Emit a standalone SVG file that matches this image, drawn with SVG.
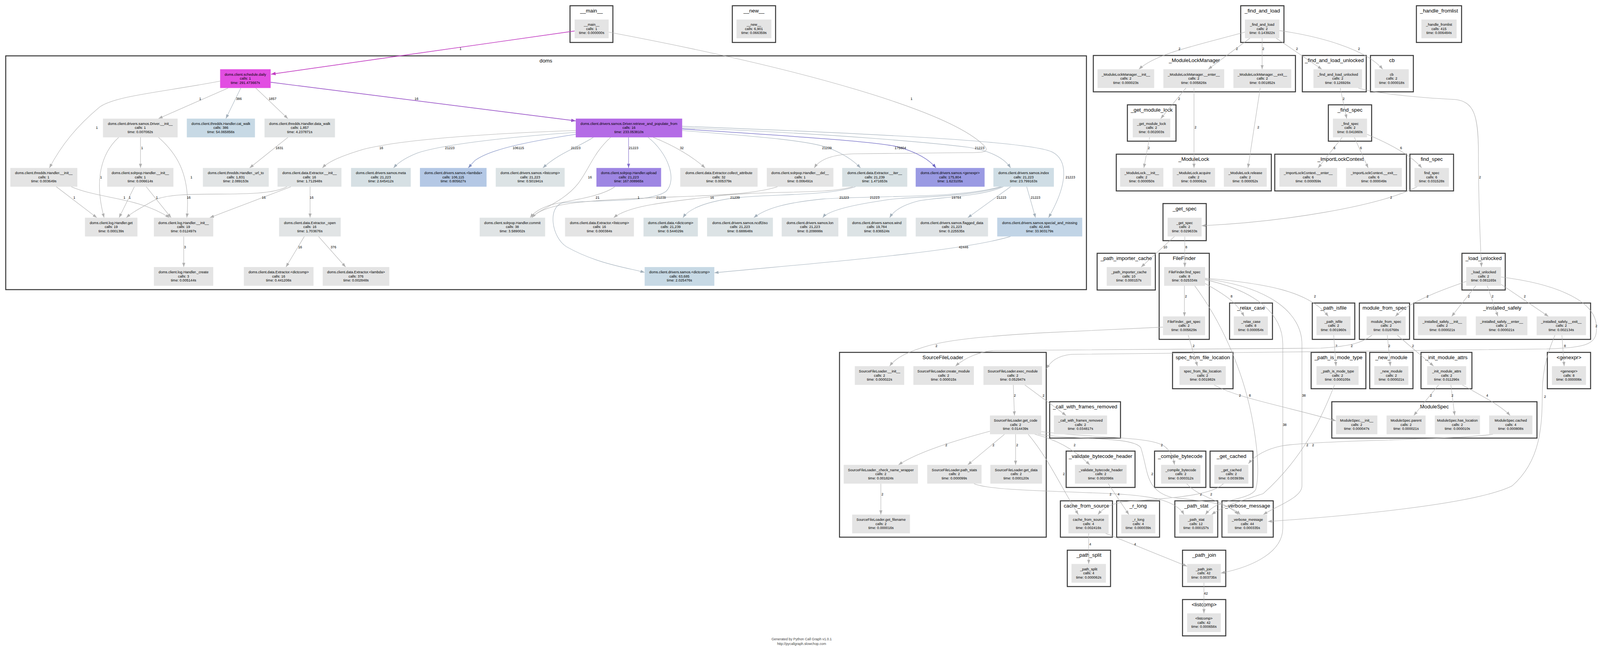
<svg xmlns="http://www.w3.org/2000/svg" width="4189" height="1711" viewBox="0 0 4189 1711">
<defs>
<style>
text{font-family:"Liberation Sans",Arial,Helvetica,sans-serif;fill:#000}
.n{font-size:9.3px;text-anchor:middle}
.c{font-size:13.5px;text-anchor:middle}
.l{font-size:9px;text-anchor:middle}
.f{font-size:9px;text-anchor:middle;fill:#444}
.cl{fill:#fff;stroke:#3a3a3a;stroke-width:2.6}
.g{fill:#e4e4e4}
.e{fill:none;stroke:#b0b0b0;stroke-width:1.1;marker-end:url(#ag)}
.eb{fill:none;stroke:#a3b0bb;stroke-width:1.1;marker-end:url(#ab)}
.em{fill:none;stroke:#c23cc2;stroke-width:1.7;marker-end:url(#am)}
.ep{fill:none;stroke:#9a55c8;stroke-width:1.7;marker-end:url(#ap)}
.ebl{fill:none;stroke:#7f8fc2;stroke-width:1.2;marker-end:url(#abl)}
.ev{fill:none;stroke:#8470cc;stroke-width:1.2;marker-end:url(#av)}
.ei{fill:none;stroke:#6a64c2;stroke-width:1.3;marker-end:url(#ai)}
</style>
<marker id="ag" markerUnits="userSpaceOnUse" markerWidth="11" markerHeight="8" refX="11" refY="4" orient="auto" viewBox="0 0 11 8"><path d="M0,0L11,4L0,8z" fill="#b0b0b0"/></marker>
<marker id="ab" markerUnits="userSpaceOnUse" markerWidth="11" markerHeight="8" refX="11" refY="4" orient="auto" viewBox="0 0 11 8"><path d="M0,0L11,4L0,8z" fill="#a3b0bb"/></marker>
<marker id="am" markerUnits="userSpaceOnUse" markerWidth="12" markerHeight="9" refX="12" refY="4.5" orient="auto" viewBox="0 0 12 9"><path d="M0,0L12,4.5L0,9z" fill="#c23cc2"/></marker>
<marker id="ap" markerUnits="userSpaceOnUse" markerWidth="12" markerHeight="9" refX="12" refY="4.5" orient="auto" viewBox="0 0 12 9"><path d="M0,0L12,4.5L0,9z" fill="#9a55c8"/></marker>
<marker id="abl" markerUnits="userSpaceOnUse" markerWidth="11" markerHeight="8" refX="11" refY="4" orient="auto" viewBox="0 0 11 8"><path d="M0,0L11,4L0,8z" fill="#7f8fc2"/></marker>
<marker id="av" markerUnits="userSpaceOnUse" markerWidth="11" markerHeight="8" refX="11" refY="4" orient="auto" viewBox="0 0 11 8"><path d="M0,0L11,4L0,8z" fill="#8470cc"/></marker>
<marker id="ai" markerUnits="userSpaceOnUse" markerWidth="11" markerHeight="8" refX="11" refY="4" orient="auto" viewBox="0 0 11 8"><path d="M0,0L11,4L0,8z" fill="#6a64c2"/></marker>
</defs>
<rect width="4189" height="1711" fill="#fff"/>
<g id="diagram" transform="scale(0.98)">
<g id="clusters">
<g id="c-doms"><rect class="cl" x="15" y="146" width="2823" height="611"/><text class="c" x="1426" y="163.5">doms</text></g>
<g id="c-main"><rect class="cl" x="1489" y="15" width="112" height="96"/><text class="c" x="1545" y="33">__main__</text></g>
<g id="c-new"><rect class="cl" x="1913" y="15" width="113" height="96"/><text class="c" x="1969.5" y="33">__new__</text></g>
<g id="c-fal"><rect class="cl" x="3241" y="15" width="113" height="96"/><text class="c" x="3297.5" y="33">_find_and_load</text></g>
<g id="c-hf"><rect class="cl" x="3700" y="15" width="118" height="96"/><text class="c" x="3759" y="33">_handle_fromlist</text></g>
<g id="c-mlm"><rect class="cl" x="2856" y="145" width="528" height="95"/><text class="c" x="3120" y="162.5">_ModuleLockManager</text></g>
<g id="c-falu"><rect class="cl" x="3402" y="145" width="167" height="95"/><text class="c" x="3485.5" y="162.5">_find_and_load_unlocked</text></g>
<g id="c-cb"><rect class="cl" x="3580" y="145" width="112" height="95"/><text class="c" x="3636" y="162.5">cb</text></g>
<g id="c-gml"><rect class="cl" x="2945" y="274" width="127" height="95"/><text class="c" x="3008.5" y="291.5">_get_module_lock</text></g>
<g id="c-fs"><rect class="cl" x="3470" y="274" width="113" height="95"/><text class="c" x="3526.5" y="291.5">_find_spec</text></g>
<g id="c-ml"><rect class="cl" x="2916" y="403" width="405" height="96"/><text class="c" x="3118.5" y="420.5">_ModuleLock</text></g>
<g id="c-ilc"><rect class="cl" x="3330" y="403" width="344" height="96"/><text class="c" x="3502" y="420.5">_ImportLockContext</text></g>
<g id="c-fspec"><rect class="cl" x="3683" y="403" width="114" height="96"/><text class="c" x="3740" y="420.5">find_spec</text></g>
<g id="c-gs"><rect class="cl" x="3038" y="532" width="113" height="97"/><text class="c" x="3094.5" y="549.5">_get_spec</text></g>
<g id="c-pic"><rect class="cl" x="2866" y="662" width="152" height="96"/><text class="c" x="2942" y="679.5">_path_importer_cache</text></g>
<g id="c-ff"><rect class="cl" x="3028" y="662" width="131" height="225"/><text class="c" x="3093.5" y="679.5">FileFinder</text></g>
<g id="c-lu"><rect class="cl" x="3819" y="662" width="113" height="96"/><text class="c" x="3875.5" y="679.5">_load_unlocked</text></g>
<g id="c-rc"><rect class="cl" x="3212" y="792" width="112" height="95"/><text class="c" x="3268" y="809.5">_relax_case</text></g>
<g id="c-pif"><rect class="cl" x="3428" y="792" width="111" height="95"/><text class="c" x="3483.5" y="809.5">_path_isfile</text></g>
<g id="c-mfs"><rect class="cl" x="3551" y="792" width="131" height="95"/><text class="c" x="3616.5" y="809.5">module_from_spec</text></g>
<g id="c-is"><rect class="cl" x="3693" y="792" width="462" height="95"/><text class="c" x="3924" y="809.5">_installed_safely</text></g>
<g id="c-sfl"><rect class="cl" x="2193" y="921" width="540" height="483"/><text class="c" x="2463" y="938.5">SourceFileLoader</text></g>
<g id="c-sffl"><rect class="cl" x="3063" y="921" width="158" height="95"/><text class="c" x="3142" y="938.5">spec_from_file_location</text></g>
<g id="c-pimt"><rect class="cl" x="3425" y="921" width="143" height="95"/><text class="c" x="3496.5" y="938.5">_path_is_mode_type</text></g>
<g id="c-nm"><rect class="cl" x="3578" y="921" width="113" height="95"/><text class="c" x="3634.5" y="938.5">_new_module</text></g>
<g id="c-ima"><rect class="cl" x="3712" y="921" width="133" height="95"/><text class="c" x="3778.5" y="938.5">_init_module_attrs</text></g>
<g id="c-gx"><rect class="cl" x="4042" y="921" width="113" height="95"/><text class="c" x="4098.5" y="938.5">&lt;genexpr&gt;</text></g>
<g id="c-cwfr"><rect class="cl" x="2742" y="1050" width="185" height="95"/><text class="c" x="2834.5" y="1067.5">_call_with_frames_removed</text></g>
<g id="c-ms"><rect class="cl" x="3479" y="1050" width="536" height="95"/><text class="c" x="3747" y="1067.5">ModuleSpec</text></g>
<g id="c-vbh"><rect class="cl" x="2785" y="1179" width="180" height="95"/><text class="c" x="2875" y="1196.5">_validate_bytecode_header</text></g>
<g id="c-cbc"><rect class="cl" x="3016" y="1179" width="134" height="95"/><text class="c" x="3083" y="1196.5">_compile_bytecode</text></g>
<g id="c-gc"><rect class="cl" x="3161" y="1179" width="112" height="95"/><text class="c" x="3217" y="1196.5">_get_cached</text></g>
<g id="c-cfs"><rect class="cl" x="2770" y="1309" width="136" height="95"/><text class="c" x="2838" y="1326.5">cache_from_source</text></g>
<g id="c-rl"><rect class="cl" x="2917" y="1309" width="112" height="95"/><text class="c" x="2973" y="1326.5">_r_long</text></g>
<g id="c-ps"><rect class="cl" x="3069" y="1309" width="112" height="95"/><text class="c" x="3125" y="1326.5">_path_stat</text></g>
<g id="c-vm"><rect class="cl" x="3192" y="1309" width="134" height="95"/><text class="c" x="3259" y="1326.5">_verbose_message</text></g>
<g id="c-psp"><rect class="cl" x="2788" y="1438" width="113" height="95"/><text class="c" x="2844.5" y="1455.5">_path_split</text></g>
<g id="c-pj"><rect class="cl" x="3089" y="1438" width="113" height="95"/><text class="c" x="3145.5" y="1455.5">_path_join</text></g>
<g id="c-lc"><rect class="cl" x="3089" y="1567" width="113" height="95"/><text class="c" x="3145.5" y="1584.5">&lt;listcomp&gt;</text></g>
</g>

<g id="edges">
<path class="em" d="M1501,81 L708,194"/><text class="l" x="1203" y="131">1</text>
<path class="e" d="M1590,84 C2100,180 2480,290 2570,380 C2590,400 2560,399 2520,399 L2230,402 C2170,404 2140,418 2127,439"/><text class="l" x="2381" y="261">1</text>
<path class="e" d="M596,230 L414,310"/><text class="l" x="523" y="261">1</text>
<path class="eb" d="M629,230 L590,310"/><text class="l" x="624" y="261">386</text>
<path class="e" d="M668,230 L752,310"/><text class="l" x="712" y="261">1857</text>
<path class="ep" d="M707,215 L1504,316"/><text class="l" x="1088" y="261">16</text>
<path class="e" d="M575,212 C430,240 300,250 260,280 C200,330 160,380 129,439"/><text class="l" x="253" y="337">1</text>
<path class="e" d="M367,359 L367,439"/><text class="l" x="371" y="390">1</text>
<path class="e" d="M310,359 C265,400 245,470 272,569"/><text class="l" x="264" y="466">1</text>
<path class="e" d="M414,359 C455,395 500,450 488,569"/><text class="l" x="500" y="466">1</text>
<path class="e" d="M752,359 L652,439"/><text class="l" x="730" y="390">1831</text>
<path class="e" d="M147,488 L253,569"/><text class="l" x="194" y="519">1</text>
<path class="e" d="M186,488 C260,520 360,515 443,569"/><text class="l" x="325" y="519">1</text>
<path class="e" d="M351,488 L311,569"/><text class="l" x="339" y="519">1</text>
<path class="e" d="M382,488 L447,569"/><text class="l" x="410" y="519">1</text>
<path class="e" d="M750,488 C680,525 460,490 400,525 C365,545 345,555 330,569"/><text class="l" x="493" y="519">16</text>
<path class="e" d="M760,488 L548,569"/><text class="l" x="689" y="519">16</text>
<path class="e" d="M810,488 L810,569"/><text class="l" x="814" y="519">16</text>
<path class="e" d="M480,618 L480,698"/><text class="l" x="483" y="649">3</text>
<path class="e" d="M795,618 L747,698"/><text class="l" x="784" y="649">16</text>
<path class="e" d="M832,618 L903,698"/><text class="l" x="871" y="649">376</text>
<path class="e" d="M1504,341 C1250,350 1050,365 950,390 C900,405 860,420 842,439"/><text class="l" x="996" y="390">16</text>
<path class="eb" d="M1504,346 C1300,360 1150,380 1090,400 C1060,412 1040,425 1028,439"/><text class="l" x="1175" y="390">21223</text>
<path class="ebl" d="M1504,351 C1380,370 1280,390 1240,420 L1223,439"/><text class="l" x="1354" y="390">106115</text>
<path class="eb" d="M1550,359 C1510,385 1460,400 1418,439"/><text class="l" x="1504" y="390">21223</text>
<path class="e" d="M1595,359 C1550,400 1540,440 1510,480 C1470,530 1410,545 1389,569"/><text class="l" x="1541" y="466">16</text>
<path class="ev" d="M1642,359 L1642,439"/><text class="l" x="1655" y="390">21223</text>
<path class="eb" d="M1693,359 C1745,400 1770,470 1740,500 C1700,530 1560,522 1470,530 C1430,540 1440,620 1480,645 C1560,690 1640,700 1684,712"/><text class="l" x="1727" y="519">21239</text>
<path class="e" d="M1706,359 C1760,380 1810,410 1842,439"/><text class="l" x="1781" y="390">32</text>
<path class="eb" d="M1782,330 C2300,350 2700,370 2750,398 C2790,420 2790,480 2739,569"/><text class="l" x="2796" y="466">21223</text>
<path class="eb" d="M1782,334 C2200,350 2450,375 2530,385 C2590,395 2625,415 2640,439"/><text class="l" x="2559" y="390">21223</text>
<path class="ei" d="M1782,337 C2050,355 2300,370 2350,385 C2400,400 2430,420 2445,439"/><text class="l" x="2352" y="390">175804</text>
<path class="eb" d="M1782,341 C1950,355 2100,365 2160,385 C2200,400 2230,420 2248,439"/><text class="l" x="2160" y="390">21239</text>
<path class="e" d="M2031,488 C1960,512 1800,512 1680,518 C1500,525 1420,535 1389,569"/><text class="l" x="1668" y="519">1</text>
<path class="e" d="M1606,488 C1570,515 1480,525 1440,535 C1410,545 1395,555 1385,569"/><text class="l" x="1561" y="519">21</text>
<path class="e" d="M2228,488 C2150,510 2000,495 1850,515 C1720,530 1640,540 1603,569"/><text class="l" x="1860" y="519">16</text>
<path class="eb" d="M2235,488 C2150,515 2000,505 1900,520 C1840,530 1800,545 1784,569"/><text class="l" x="1920" y="519">21239</text>
<path class="eb" d="M2614,488 C2500,520 2300,510 2150,520 C2050,530 2000,545 1969,569"/><text class="l" x="2205" y="519">21223</text>
<path class="eb" d="M2617,488 C2520,520 2380,510 2300,525 C2200,540 2160,555 2149,569"/><text class="l" x="2285" y="519">21223</text>
<path class="eb" d="M2621,488 C2560,515 2450,515 2400,525 C2360,535 2335,550 2324,569"/><text class="l" x="2498" y="519">19784</text>
<path class="eb" d="M2640,488 L2528,569"/><text class="l" x="2616" y="519">21223</text>
<path class="eb" d="M2682,488 L2705,569"/><text class="l" x="2705" y="519">21223</text>
<path class="eb" d="M2640,618 C2500,660 2100,690 1866,713"/><text class="l" x="2517" y="649">42446</text>

<path class="e" d="M3252,84 C3120,120 3020,140 2975,181"/><text class="l" x="3081" y="131">2</text>
<path class="e" d="M3265,100 L3156,181"/><text class="l" x="3231" y="131">2</text>
<path class="e" d="M3297,100 L3297,181"/><text class="l" x="3300" y="131">2</text>
<path class="e" d="M3334,100 L3453,181"/><text class="l" x="3388" y="131">2</text>
<path class="e" d="M3342,80 C3450,95 3570,130 3612,181"/><text class="l" x="3550" y="131">2</text>
<path class="e" d="M3098,230 L3032,310"/><text class="l" x="3080" y="261">2</text>
<path class="e" d="M3119,230 L3119,439"/><text class="l" x="3123" y="336">2</text>
<path class="e" d="M3292,230 L3260,439"/><text class="l" x="3287" y="336">2</text>
<path class="e" d="M3003,359 L2988,439"/><text class="l" x="3001" y="390">2</text>
<path class="e" d="M3501,230 L3518,310"/><text class="l" x="3510" y="261">2</text>
<path class="e" d="M3548,230 C3600,245 3700,255 3800,260 C3850,265 3862,300 3862,400 C3862,550 3868,650 3870,698"/><text class="l" x="3866" y="466">2</text>
<path class="e" d="M3506,359 L3443,439"/><text class="l" x="3486" y="390">6</text>
<path class="e" d="M3538,359 L3574,439"/><text class="l" x="3555" y="390">6</text>
<path class="e" d="M3571,351 C3640,380 3690,410 3714,439"/><text class="l" x="3660" y="390">6</text>
<path class="e" d="M3702,488 C3600,540 3350,580 3139,590"/><text class="l" x="3634" y="519">2</text>
<path class="e" d="M3068,618 L2981,698"/><text class="l" x="3044" y="649">10</text>
<path class="e" d="M3095,618 L3095,698"/><text class="l" x="3099" y="649">8</text>
<path class="e" d="M3094,747 L3094,827"/><text class="l" x="3098" y="778">2</text>
<path class="e" d="M3148,741 C3200,770 3230,790 3250,827"/><text class="l" x="3217" y="778">8</text>
<path class="e" d="M3148,727 C3300,740 3420,760 3470,827"/><text class="l" x="3435" y="778">2</text>
<path class="e" d="M3121,747 C3160,800 3200,870 3230,950 C3280,1080 3295,1230 3280,1280 C3260,1310 3180,1300 3149,1345"/><text class="l" x="3265" y="1037">8</text>
<path class="e" d="M3148,729 C3320,750 3401,820 3401,900 L3401,1270 C3401,1300 3340,1320 3300,1345"/><text class="l" x="3406" y="1037">38</text>
<path class="e" d="M3148,731 C3280,760 3351,820 3351,900 L3351,1380 C3351,1440 3280,1480 3189,1498"/><text class="l" x="3356" y="1113">38</text>
<path class="e" d="M3038,855 L2720,870 C2550,880 2470,890 2420,905 C2370,920 2340,935 2324,957"/><text class="l" x="2446" y="907">2</text>
<path class="e" d="M3104,876 L3128,957"/><text class="l" x="3118" y="907">2</text>
<path class="e" d="M3484,876 L3490,957"/><text class="l" x="3491" y="907">2</text>
<path class="e" d="M3584,876 C3560,895 3530,905 3450,910 L2600,916 C2560,918 2520,935 2496,957"/><text class="l" x="3531" y="907">2</text>
<path class="e" d="M3624,876 L3632,957"/><text class="l" x="3629" y="907">2</text>
<path class="e" d="M3650,876 L3745,957"/><text class="l" x="3691" y="907">2</text>
<path class="e" d="M3832,735 C3760,760 3680,790 3645,827"/><text class="l" x="3729" y="778">2</text>
<path class="e" d="M3855,747 L3792,827"/><text class="l" x="3837" y="778">2</text>
<path class="e" d="M3885,747 L3913,827"/><text class="l" x="3899" y="778">2</text>
<path class="e" d="M3921,743 L4045,827"/><text class="l" x="3983" y="778">2</text>
<path class="e" d="M3921,724 C4050,740 4165,780 4170,850 C4174,900 4150,908 4040,912 L3450,919 L2800,926 C2760,930 2745,945 2733,964"/><text class="l" x="4170" y="855">2</text>
<path class="e" d="M4062,876 C4045,915 4030,960 4029,1020 C4028,1100 4030,1200 3950,1270 C3850,1320 3500,1350 3312,1363"/><text class="l" x="4036" y="1040">2</text>
<path class="e" d="M4080,876 L4086,957"/><text class="l" x="4088" y="907">8</text>
<path class="e" d="M3170,1005 C3230,1040 3350,1060 3490,1100"/><text class="l" x="3239" y="1037">2</text>
<path class="e" d="M3486,1006 C3450,1100 3400,1200 3300,1290 C3240,1310 3200,1320 3165,1345"/><text class="l" x="3415" y="1166">2</text>
<path class="e" d="M3900,1135 C3800,1150 3450,1150 3350,1165 C3300,1175 3275,1195 3261,1212"/><text class="l" x="3430" y="1166">2</text>
<path class="e" d="M3758,1006 L3693,1086"/><text class="l" x="3738" y="1037">2</text>
<path class="e" d="M3790,1006 L3800,1086"/><text class="l" x="3794" y="1037">2</text>
<path class="e" d="M3820,1006 C3880,1040 3920,1060 3945,1086"/><text class="l" x="3885" y="1037">4</text>
<path class="e" d="M2647,1006 L2650,1086"/><text class="l" x="2651" y="1037">2</text>
<path class="e" d="M2677,1006 L2785,1086"/><text class="l" x="2726" y="1037">2</text>
<path class="e" d="M2586,1127 C2500,1150 2400,1180 2347,1215"/><text class="l" x="2472" y="1166">2</text>
<path class="e" d="M2624,1135 L2528,1215"/><text class="l" x="2595" y="1166">2</text>
<path class="e" d="M2653,1135 L2653,1215"/><text class="l" x="2657" y="1166">2</text>
<path class="e" d="M2686,1135 C2740,1200 2770,1270 2817,1345"/><text class="l" x="2779" y="1242">2</text>
<path class="e" d="M2703,1135 C2760,1150 2800,1170 2847,1215"/><text class="l" x="2807" y="1166">2</text>
<path class="e" d="M2720,1128 C2850,1145 3000,1140 3040,1165 C3060,1180 3065,1195 3068,1215"/><text class="l" x="3035" y="1166">2</text>
<path class="e" d="M2712,1135 C2800,1150 2960,1140 2980,1170 C3000,1230 2990,1280 3060,1300 C3150,1310 3210,1315 3240,1345"/><text class="l" x="3010" y="1242">2</text>
<path class="e" d="M2544,1264 C2580,1280 2700,1282 2900,1290 C3000,1295 3070,1305 3093,1345"/><text class="l" x="2901" y="1295">2</text>
<path class="e" d="M2895,1264 L2949,1345"/><text class="l" x="2922" y="1295">4</text>
<path class="e" d="M3100,1264 C3130,1300 3200,1310 3235,1345"/><text class="l" x="3137" y="1295">2</text>
<path class="e" d="M3196,1264 C3170,1290 3100,1300 2950,1310 C2900,1315 2880,1330 2868,1345"/><text class="l" x="3164" y="1295">2</text>
<path class="e" d="M2301,1264 L2301,1345"/><text class="l" x="2305" y="1295">2</text>
<path class="e" d="M2844,1394 L2844,1474"/><text class="l" x="2848" y="1425">4</text>
<path class="e" d="M2888,1394 L3101,1480"/><text class="l" x="2965" y="1425">4</text>
<path class="e" d="M3145,1523 L3145,1603"/><text class="l" x="3150" y="1554">42</text>
</g>

<g id="nodes">
<g id="n-sched"><rect x="575" y="181" width="132" height="49" fill="#e24ee2"/><text class="n" x="641" y="197.5">doms.client.schedule.daily<tspan x="641" dy="10.7">calls: 1</tspan><tspan x="641" dy="10.7">time: 291.473667s</tspan></text></g>
<g id="n-drvinit"><rect class="g" x="269" y="310" width="195" height="49"/><text class="n" x="366.5" y="326.5">doms.client.drivers.samos.Driver.__init__<tspan x="366.5" dy="10.7">calls: 1</tspan><tspan x="366.5" dy="10.7">time: 0.007082s</tspan></text></g>
<g id="n-catwalk"><rect x="488" y="310" width="178" height="49" fill="#c7d9e5"/><text class="n" x="577" y="326.5">doms.client.thredds.Handler.cat_walk<tspan x="577" dy="10.7">calls: 386</tspan><tspan x="577" dy="10.7">time: 54.065856s</tspan></text></g>
<g id="n-datawalk"><rect x="691" y="310" width="184" height="49" fill="#e0e3e4"/><text class="n" x="783" y="326.5">doms.client.thredds.Handler.data_walk<tspan x="783" dy="10.7">calls: 1,857</tspan><tspan x="783" dy="10.7">time: 4.237871s</tspan></text></g>
<g id="n-retrieve"><rect x="1504" y="310" width="278" height="49" fill="#b46be6"/><text class="n" x="1643" y="326.5">doms.client.drivers.samos.Driver.retrieve_and_populate_from<tspan x="1643" dy="10.7">calls: 16</tspan><tspan x="1643" dy="10.7">time: 233.053810s</tspan></text></g>
<g id="n-thinit"><rect class="g" x="27" y="439" width="175" height="49"/><text class="n" x="114.5" y="455.5">doms.client.thredds.Handler.__init__<tspan x="114.5" dy="10.7">calls: 1</tspan><tspan x="114.5" dy="10.7">time: 0.003649s</tspan></text></g>
<g id="n-spinit"><rect class="g" x="280" y="439" width="173" height="49"/><text class="n" x="366.5" y="455.5">doms.client.solrpop.Handler.__init__<tspan x="366.5" dy="10.7">calls: 1</tspan><tspan x="366.5" dy="10.7">time: 0.006614s</tspan></text></g>
<g id="n-urlto"><rect x="530" y="439" width="172" height="49" fill="#e1e4e5"/><text class="n" x="616" y="455.5">doms.client.thredds.Handler._url_to<tspan x="616" dy="10.7">calls: 1,831</tspan><tspan x="616" dy="10.7">time: 2.089153s</tspan></text></g>
<g id="n-exinit"><rect x="725" y="439" width="167" height="49" fill="#e1e4e5"/><text class="n" x="808.5" y="455.5">doms.client.data.Extractor.__init__<tspan x="808.5" dy="10.7">calls: 16</tspan><tspan x="808.5" dy="10.7">time: 1.712948s</tspan></text></g>
<g id="n-meta"><rect x="917" y="439" width="156" height="49" fill="#d6e0e4"/><text class="n" x="995" y="455.5">doms.client.drivers.samos.meta<tspan x="995" dy="10.7">calls: 21,223</tspan><tspan x="995" dy="10.7">time: 2.645412s</tspan></text></g>
<g id="n-lambda"><rect x="1097" y="439" width="174" height="49" fill="#b4c8e5"/><text class="n" x="1184" y="455.5">doms.client.drivers.samos.&lt;lambda&gt;<tspan x="1184" dy="10.7">calls: 106,115</tspan><tspan x="1184" dy="10.7">time: 0.805627s</tspan></text></g>
<g id="n-listcomp"><rect x="1295" y="439" width="180" height="49" fill="#dce3e5"/><text class="n" x="1385" y="455.5">doms.client.drivers.samos.&lt;listcomp&gt;<tspan x="1385" dy="10.7">calls: 21,223</tspan><tspan x="1385" dy="10.7">time: 0.501941s</tspan></text></g>
<g id="n-upload"><rect x="1558" y="439" width="169" height="49" fill="#9e86e3"/><text class="n" x="1642.5" y="455.5">doms.client.solrpop.Handler.upload<tspan x="1642.5" dy="10.7">calls: 21,223</tspan><tspan x="1642.5" dy="10.7">time: 167.008965s</tspan></text></g>
<g id="n-collect"><rect class="g" x="1777" y="439" width="202" height="49"/><text class="n" x="1878" y="455.5">doms.client.data.Extractor.collect_attribute<tspan x="1878" dy="10.7">calls: 32</tspan><tspan x="1878" dy="10.7">time: 0.005379s</tspan></text></g>
<g id="n-del"><rect class="g" x="2003" y="439" width="174" height="49"/><text class="n" x="2090" y="455.5">doms.client.solrpop.Handler.__del__<tspan x="2090" dy="10.7">calls: 1</tspan><tspan x="2090" dy="10.7">time: 0.006491s</tspan></text></g>
<g id="n-iter"><rect x="2200" y="439" width="170" height="49" fill="#d8e1e4"/><text class="n" x="2285" y="455.5">doms.client.data.Extractor.__iter__<tspan x="2285" dy="10.7">calls: 21,239</tspan><tspan x="2285" dy="10.7">time: 1.471653s</tspan></text></g>
<g id="n-genexpr"><rect x="2392" y="439" width="180" height="49" fill="#9a9ae3"/><text class="n" x="2482" y="455.5">doms.client.drivers.samos.&lt;genexpr&gt;<tspan x="2482" dy="10.7">calls: 175,804</tspan><tspan x="2482" dy="10.7">time: 1.623105s</tspan></text></g>
<g id="n-index"><rect x="2595" y="439" width="158" height="49" fill="#cfdde5"/><text class="n" x="2674" y="455.5">doms.client.drivers.samos.index<tspan x="2674" dy="10.7">calls: 21,223</tspan><tspan x="2674" dy="10.7">time: 23.799163s</tspan></text></g>
<g id="n-logget"><rect class="g" x="222" y="569" width="137" height="49"/><text class="n" x="290.5" y="585.5">doms.client.log.Handler.get<tspan x="290.5" dy="10.7">calls: 19</tspan><tspan x="290.5" dy="10.7">time: 0.000139s</tspan></text></g>
<g id="n-loginit"><rect class="g" x="402" y="569" width="155" height="49"/><text class="n" x="479.5" y="585.5">doms.client.log.Handler.__init__<tspan x="479.5" dy="10.7">calls: 19</tspan><tspan x="479.5" dy="10.7">time: 0.012497s</tspan></text></g>
<g id="n-exopen"><rect x="729" y="569" width="161" height="49" fill="#e1e4e5"/><text class="n" x="809.5" y="585.5">doms.client.data.Extractor._open<tspan x="809.5" dy="10.7">calls: 16</tspan><tspan x="809.5" dy="10.7">time: 1.703676s</tspan></text></g>
<g id="n-commit"><rect x="1253" y="569" width="171" height="49" fill="#e0e4e5"/><text class="n" x="1338.5" y="585.5">doms.client.solrpop.Handler.commit<tspan x="1338.5" dy="10.7">calls: 38</tspan><tspan x="1338.5" dy="10.7">time: 3.589002s</tspan></text></g>
<g id="n-exlistcomp"><rect class="g" x="1476" y="569" width="180" height="49"/><text class="n" x="1566" y="585.5">doms.client.data.Extractor.&lt;listcomp&gt;<tspan x="1566" dy="10.7">calls: 16</tspan><tspan x="1566" dy="10.7">time: 0.000384s</tspan></text></g>
<g id="n-datadict"><rect x="1681" y="569" width="142" height="49" fill="#d8e1e4"/><text class="n" x="1752" y="585.5">doms.client.data.&lt;dictcomp&gt;<tspan x="1752" dy="10.7">calls: 21,239</tspan><tspan x="1752" dy="10.7">time: 0.544029s</tspan></text></g>
<g id="n-ncdf"><rect x="1847" y="569" width="172" height="49" fill="#dce3e5"/><text class="n" x="1933" y="585.5">doms.client.drivers.samos.ncdf2iso<tspan x="1933" dy="10.7">calls: 21,223</tspan><tspan x="1933" dy="10.7">time: 0.688648s</tspan></text></g>
<g id="n-lon"><rect x="2042" y="569" width="148" height="49" fill="#dfe3e5"/><text class="n" x="2116" y="585.5">doms.client.drivers.samos.lon<tspan x="2116" dy="10.7">calls: 21,223</tspan><tspan x="2116" dy="10.7">time: 0.209999s</tspan></text></g>
<g id="n-wind"><rect x="2213" y="569" width="155" height="49" fill="#dce3e5"/><text class="n" x="2290.5" y="585.5">doms.client.drivers.samos.wind<tspan x="2290.5" dy="10.7">calls: 19,784</tspan><tspan x="2290.5" dy="10.7">time: 0.836524s</tspan></text></g>
<g id="n-flagged"><rect x="2392" y="569" width="189" height="49" fill="#dfe3e5"/><text class="n" x="2486.5" y="585.5">doms.client.drivers.samos.flagged_data<tspan x="2486.5" dy="10.7">calls: 21,223</tspan><tspan x="2486.5" dy="10.7">time: 0.225535s</tspan></text></g>
<g id="n-special"><rect x="2605" y="569" width="222" height="49" fill="#c1d4e6"/><text class="n" x="2716" y="585.5">doms.client.drivers.samos.special_and_missing<tspan x="2716" dy="10.7">calls: 42,446</tspan><tspan x="2716" dy="10.7">time: 33.903179s</tspan></text></g>
<g id="n-logcreate"><rect class="g" x="402" y="698" width="155" height="49"/><text class="n" x="479.5" y="714.5">doms.client.log.Handler._create<tspan x="479.5" dy="10.7">calls: 3</tspan><tspan x="479.5" dy="10.7">time: 0.005144s</tspan></text></g>
<g id="n-exdict"><rect class="g" x="637" y="698" width="182" height="49"/><text class="n" x="728" y="714.5">doms.client.data.Extractor.&lt;dictcomp&gt;<tspan x="728" dy="10.7">calls: 16</tspan><tspan x="728" dy="10.7">time: 0.441206s</tspan></text></g>
<g id="n-exlambda"><rect class="g" x="843" y="698" width="174" height="49"/><text class="n" x="930" y="714.5">doms.client.data.Extractor.&lt;lambda&gt;<tspan x="930" dy="10.7">calls: 376</tspan><tspan x="930" dy="10.7">time: 0.002848s</tspan></text></g>
<g id="n-samosdict"><rect x="1684" y="698" width="182" height="49" fill="#c7d9e5"/><text class="n" x="1775" y="714.5">doms.client.drivers.samos.&lt;dictcomp&gt;<tspan x="1775" dy="10.7">calls: 63,685</tspan><tspan x="1775" dy="10.7">time: 2.025476s</tspan></text></g>

<g id="n-main"><rect class="g" x="1501" y="51" width="89" height="49"/><text class="n" x="1545.5" y="67.5">__main__<tspan x="1545.5" dy="10.7">calls: 1</tspan><tspan x="1545.5" dy="10.7">time: 0.000000s</tspan></text></g>
<g id="n-new"><rect class="g" x="1924" y="51" width="91" height="49"/><text class="n" x="1969.5" y="67.5">__new__<tspan x="1969.5" dy="10.7">calls: 6,901</tspan><tspan x="1969.5" dy="10.7">time: 0.066359s</tspan></text></g>
<g id="n-fal"><rect class="g" x="3252" y="51" width="90" height="49"/><text class="n" x="3297" y="67.5">_find_and_load<tspan x="3297" dy="10.7">calls: 2</tspan><tspan x="3297" dy="10.7">time: 0.143922s</tspan></text></g>
<g id="n-hf"><rect class="g" x="3713" y="51" width="92" height="49"/><text class="n" x="3759" y="67.5">_handle_fromlist<tspan x="3759" dy="10.7">calls: 415</tspan><tspan x="3759" dy="10.7">time: 0.006484s</tspan></text></g>
<g id="n-mlminit"><rect class="g" x="2867" y="181" width="148" height="49"/><text class="n" x="2941" y="197.5">_ModuleLockManager.__init__<tspan x="2941" dy="10.7">calls: 2</tspan><tspan x="2941" dy="10.7">time: 0.000023s</tspan></text></g>
<g id="n-mlmenter"><rect class="g" x="3039" y="181" width="159" height="49"/><text class="n" x="3118.5" y="197.5">_ModuleLockManager.__enter__<tspan x="3118.5" dy="10.7">calls: 2</tspan><tspan x="3118.5" dy="10.7">time: 0.005826s</tspan></text></g>
<g id="n-mlmexit"><rect class="g" x="3222" y="181" width="151" height="49"/><text class="n" x="3297.5" y="197.5">_ModuleLockManager.__exit__<tspan x="3297.5" dy="10.7">calls: 2</tspan><tspan x="3297.5" dy="10.7">time: 0.001852s</tspan></text></g>
<g id="n-falu"><rect class="g" x="3431" y="181" width="127" height="49"/><text class="n" x="3494.5" y="197.5">_find_and_load_unlocked<tspan x="3494.5" dy="10.7">calls: 2</tspan><tspan x="3494.5" dy="10.7">time: 0.126926s</tspan></text></g>
<g id="n-cb"><rect class="g" x="3591" y="181" width="89" height="49"/><text class="n" x="3635.5" y="197.5">cb<tspan x="3635.5" dy="10.7">calls: 2</tspan><tspan x="3635.5" dy="10.7">time: 0.000018s</tspan></text></g>
<g id="n-gml"><rect class="g" x="2959" y="310" width="98" height="49"/><text class="n" x="3008" y="326.5">_get_module_lock<tspan x="3008" dy="10.7">calls: 2</tspan><tspan x="3008" dy="10.7">time: 0.002003s</tspan></text></g>
<g id="n-fs"><rect class="g" x="3482" y="310" width="89" height="49"/><text class="n" x="3526.5" y="326.5">_find_spec<tspan x="3526.5" dy="10.7">calls: 2</tspan><tspan x="3526.5" dy="10.7">time: 0.041960s</tspan></text></g>
<g id="n-mlinit"><rect class="g" x="2926" y="439" width="113" height="49"/><text class="n" x="2982.5" y="455.5">_ModuleLock.__init__<tspan x="2982.5" dy="10.7">calls: 2</tspan><tspan x="2982.5" dy="10.7">time: 0.000050s</tspan></text></g>
<g id="n-mlacq"><rect class="g" x="3063" y="439" width="111" height="49"/><text class="n" x="3118.5" y="455.5">_ModuleLock.acquire<tspan x="3118.5" dy="10.7">calls: 2</tspan><tspan x="3118.5" dy="10.7">time: 0.000062s</tspan></text></g>
<g id="n-mlrel"><rect class="g" x="3197" y="439" width="112" height="49"/><text class="n" x="3253" y="455.5">_ModuleLock.release<tspan x="3253" dy="10.7">calls: 2</tspan><tspan x="3253" dy="10.7">time: 0.000052s</tspan></text></g>
<g id="n-ilcenter"><rect class="g" x="3342" y="439" width="151" height="49"/><text class="n" x="3417.5" y="455.5">_ImportLockContext.__enter__<tspan x="3417.5" dy="10.7">calls: 6</tspan><tspan x="3417.5" dy="10.7">time: 0.000059s</tspan></text></g>
<g id="n-ilcexit"><rect class="g" x="3516" y="439" width="146" height="49"/><text class="n" x="3589" y="455.5">_ImportLockContext.__exit__<tspan x="3589" dy="10.7">calls: 6</tspan><tspan x="3589" dy="10.7">time: 0.000049s</tspan></text></g>
<g id="n-fspec"><rect class="g" x="3695" y="439" width="90" height="49"/><text class="n" x="3740" y="455.5">find_spec<tspan x="3740" dy="10.7">calls: 6</tspan><tspan x="3740" dy="10.7">time: 0.031528s</tspan></text></g>
<g id="n-gs"><rect class="g" x="3050" y="569" width="89" height="49"/><text class="n" x="3094.5" y="585.5">_get_spec<tspan x="3094.5" dy="10.7">calls: 2</tspan><tspan x="3094.5" dy="10.7">time: 0.029633s</tspan></text></g>
<g id="n-pic"><rect class="g" x="2891" y="698" width="116" height="49"/><text class="n" x="2949" y="714.5">_path_importer_cache<tspan x="2949" dy="10.7">calls: 10</tspan><tspan x="2949" dy="10.7">time: 0.000157s</tspan></text></g>
<g id="n-ffind"><rect class="g" x="3041" y="698" width="107" height="49"/><text class="n" x="3094.5" y="714.5">FileFinder.find_spec<tspan x="3094.5" dy="10.7">calls: 8</tspan><tspan x="3094.5" dy="10.7">time: 0.025334s</tspan></text></g>
<g id="n-lu"><rect class="g" x="3830" y="698" width="91" height="49"/><text class="n" x="3875.5" y="714.5">_load_unlocked<tspan x="3875.5" dy="10.7">calls: 2</tspan><tspan x="3875.5" dy="10.7">time: 0.081165s</tspan></text></g>
<g id="n-fget"><rect class="g" x="3038" y="827" width="110" height="49"/><text class="n" x="3093" y="843.5">FileFinder._get_spec<tspan x="3093" dy="10.7">calls: 2</tspan><tspan x="3093" dy="10.7">time: 0.005629s</tspan></text></g>
<g id="n-rc"><rect class="g" x="3223" y="827" width="89" height="49"/><text class="n" x="3267.5" y="843.5">_relax_case<tspan x="3267.5" dy="10.7">calls: 8</tspan><tspan x="3267.5" dy="10.7">time: 0.000054s</tspan></text></g>
<g id="n-pif"><rect class="g" x="3439" y="827" width="89" height="49"/><text class="n" x="3483.5" y="843.5">_path_isfile<tspan x="3483.5" dy="10.7">calls: 2</tspan><tspan x="3483.5" dy="10.7">time: 0.001960s</tspan></text></g>
<g id="n-mfs"><rect class="g" x="3570" y="827" width="102" height="49"/><text class="n" x="3621" y="843.5">module_from_spec<tspan x="3621" dy="10.7">calls: 2</tspan><tspan x="3621" dy="10.7">time: 0.016768s</tspan></text></g>
<g id="n-isinit"><rect class="g" x="3704" y="827" width="127" height="49"/><text class="n" x="3767.5" y="843.5">_installed_safely.__init__<tspan x="3767.5" dy="10.7">calls: 2</tspan><tspan x="3767.5" dy="10.7">time: 0.000021s</tspan></text></g>
<g id="n-isenter"><rect class="g" x="3855" y="827" width="135" height="49"/><text class="n" x="3922.5" y="843.5">_installed_safely.__enter__<tspan x="3922.5" dy="10.7">calls: 2</tspan><tspan x="3922.5" dy="10.7">time: 0.000021s</tspan></text></g>
<g id="n-isexit"><rect class="g" x="4014" y="827" width="129" height="49"/><text class="n" x="4078.5" y="843.5">_installed_safely.__exit__<tspan x="4078.5" dy="10.7">calls: 2</tspan><tspan x="4078.5" dy="10.7">time: 0.002134s</tspan></text></g>
<g id="n-sfinit"><rect class="g" x="2233" y="957" width="129" height="49"/><text class="n" x="2297.5" y="973.5">SourceFileLoader.__init__<tspan x="2297.5" dy="10.7">calls: 2</tspan><tspan x="2297.5" dy="10.7">time: 0.000022s</tspan></text></g>
<g id="n-sfcreate"><rect class="g" x="2386" y="957" width="158" height="49"/><text class="n" x="2465" y="973.5">SourceFileLoader.create_module<tspan x="2465" dy="10.7">calls: 2</tspan><tspan x="2465" dy="10.7">time: 0.000015s</tspan></text></g>
<g id="n-sfexec"><rect class="g" x="2569" y="957" width="153" height="49"/><text class="n" x="2645.5" y="973.5">SourceFileLoader.exec_module<tspan x="2645.5" dy="10.7">calls: 2</tspan><tspan x="2645.5" dy="10.7">time: 0.052947s</tspan></text></g>
<g id="n-sfgetcode"><rect class="g" x="2586" y="1086" width="134" height="49"/><text class="n" x="2653" y="1102.5">SourceFileLoader.get_code<tspan x="2653" dy="10.7">calls: 2</tspan><tspan x="2653" dy="10.7">time: 0.014439s</tspan></text></g>
<g id="n-sfcnw"><rect class="g" x="2204" y="1215" width="194" height="49"/><text class="n" x="2301" y="1231.5">SourceFileLoader._check_name_wrapper<tspan x="2301" dy="10.7">calls: 2</tspan><tspan x="2301" dy="10.7">time: 0.001824s</tspan></text></g>
<g id="n-sfpathstats"><rect class="g" x="2422" y="1215" width="142" height="49"/><text class="n" x="2493" y="1231.5">SourceFileLoader.path_stats<tspan x="2493" dy="10.7">calls: 2</tspan><tspan x="2493" dy="10.7">time: 0.000099s</tspan></text></g>
<g id="n-sfgetdata"><rect class="g" x="2587" y="1215" width="135" height="49"/><text class="n" x="2654.5" y="1231.5">SourceFileLoader.get_data<tspan x="2654.5" dy="10.7">calls: 2</tspan><tspan x="2654.5" dy="10.7">time: 0.000120s</tspan></text></g>
<g id="n-sfgetfn"><rect class="g" x="2226" y="1345" width="151" height="49"/><text class="n" x="2301.5" y="1361.5">SourceFileLoader.get_filename<tspan x="2301.5" dy="10.7">calls: 2</tspan><tspan x="2301.5" dy="10.7">time: 0.000016s</tspan></text></g>
<g id="n-sffl"><rect class="g" x="3081" y="957" width="121" height="49"/><text class="n" x="3141.5" y="973.5">spec_from_file_location<tspan x="3141.5" dy="10.7">calls: 2</tspan><tspan x="3141.5" dy="10.7">time: 0.001982s</tspan></text></g>
<g id="n-pimt"><rect class="g" x="3439" y="957" width="110" height="49"/><text class="n" x="3494" y="973.5">_path_is_mode_type<tspan x="3494" dy="10.7">calls: 2</tspan><tspan x="3494" dy="10.7">time: 0.000105s</tspan></text></g>
<g id="n-nm"><rect class="g" x="3590" y="957" width="89" height="49"/><text class="n" x="3634.5" y="973.5">_new_module<tspan x="3634.5" dy="10.7">calls: 2</tspan><tspan x="3634.5" dy="10.7">time: 0.000021s</tspan></text></g>
<g id="n-ima"><rect class="g" x="3728" y="957" width="102" height="49"/><text class="n" x="3779" y="973.5">_init_module_attrs<tspan x="3779" dy="10.7">calls: 2</tspan><tspan x="3779" dy="10.7">time: 0.011296s</tspan></text></g>
<g id="n-gx"><rect class="g" x="4054" y="957" width="89" height="49"/><text class="n" x="4098.5" y="973.5">&lt;genexpr&gt;<tspan x="4098.5" dy="10.7">calls: 8</tspan><tspan x="4098.5" dy="10.7">time: 0.000006s</tspan></text></g>
<g id="n-cwfr"><rect class="g" x="2753" y="1086" width="139" height="49"/><text class="n" x="2822.5" y="1102.5">_call_with_frames_removed<tspan x="2822.5" dy="10.7">calls: 2</tspan><tspan x="2822.5" dy="10.7">time: 0.034817s</tspan></text></g>
<g id="n-msinit"><rect class="g" x="3490" y="1086" width="108" height="49"/><text class="n" x="3544" y="1102.5">ModuleSpec.__init__<tspan x="3544" dy="10.7">calls: 2</tspan><tspan x="3544" dy="10.7">time: 0.000047s</tspan></text></g>
<g id="n-msparent"><rect class="g" x="3622" y="1086" width="102" height="49"/><text class="n" x="3673" y="1102.5">ModuleSpec.parent<tspan x="3673" dy="10.7">calls: 2</tspan><tspan x="3673" dy="10.7">time: 0.000021s</tspan></text></g>
<g id="n-mshasloc"><rect class="g" x="3748" y="1086" width="118" height="49"/><text class="n" x="3807" y="1102.5">ModuleSpec.has_location<tspan x="3807" dy="10.7">calls: 2</tspan><tspan x="3807" dy="10.7">time: 0.000010s</tspan></text></g>
<g id="n-mscached"><rect class="g" x="3890" y="1086" width="113" height="49"/><text class="n" x="3946.5" y="1102.5">ModuleSpec.cached<tspan x="3946.5" dy="10.7">calls: 4</tspan><tspan x="3946.5" dy="10.7">time: 0.000808s</tspan></text></g>
<g id="n-vbh"><rect class="g" x="2808" y="1215" width="135" height="49"/><text class="n" x="2875.5" y="1231.5">_validate_bytecode_header<tspan x="2875.5" dy="10.7">calls: 2</tspan><tspan x="2875.5" dy="10.7">time: 0.002096s</tspan></text></g>
<g id="n-cbc"><rect class="g" x="3033" y="1215" width="103" height="49"/><text class="n" x="3084.5" y="1231.5">_compile_bytecode<tspan x="3084.5" dy="10.7">calls: 2</tspan><tspan x="3084.5" dy="10.7">time: 0.000312s</tspan></text></g>
<g id="n-gc"><rect class="g" x="3172" y="1215" width="89" height="49"/><text class="n" x="3216.5" y="1231.5">_get_cached<tspan x="3216.5" dy="10.7">calls: 2</tspan><tspan x="3216.5" dy="10.7">time: 0.003939s</tspan></text></g>
<g id="n-cfs"><rect class="g" x="2791" y="1345" width="105" height="49"/><text class="n" x="2843.5" y="1361.5">cache_from_source<tspan x="2843.5" dy="10.7">calls: 4</tspan><tspan x="2843.5" dy="10.7">time: 0.002416s</tspan></text></g>
<g id="n-rl"><rect class="g" x="2929" y="1345" width="89" height="49"/><text class="n" x="2973.5" y="1361.5">_r_long<tspan x="2973.5" dy="10.7">calls: 4</tspan><tspan x="2973.5" dy="10.7">time: 0.000039s</tspan></text></g>
<g id="n-ps"><rect class="g" x="3080" y="1345" width="89" height="49"/><text class="n" x="3124.5" y="1361.5">_path_stat<tspan x="3124.5" dy="10.7">calls: 12</tspan><tspan x="3124.5" dy="10.7">time: 0.000157s</tspan></text></g>
<g id="n-vm"><rect class="g" x="3207" y="1345" width="103" height="49"/><text class="n" x="3258.5" y="1361.5">_verbose_message<tspan x="3258.5" dy="10.7">calls: 44</tspan><tspan x="3258.5" dy="10.7">time: 0.000335s</tspan></text></g>
<g id="n-psp"><rect class="g" x="2799" y="1474" width="90" height="49"/><text class="n" x="2844" y="1490.5">_path_split<tspan x="2844" dy="10.7">calls: 4</tspan><tspan x="2844" dy="10.7">time: 0.000062s</tspan></text></g>
<g id="n-pj"><rect class="g" x="3101" y="1474" width="88" height="49"/><text class="n" x="3145" y="1490.5">_path_join<tspan x="3145" dy="10.7">calls: 42</tspan><tspan x="3145" dy="10.7">time: 0.003735s</tspan></text></g>
<g id="n-lc"><rect class="g" x="3101" y="1603" width="88" height="49"/><text class="n" x="3145" y="1619.5">&lt;listcomp&gt;<tspan x="3145" dy="10.7">calls: 42</tspan><tspan x="3145" dy="10.7">time: 0.000656s</tspan></text></g>
</g>

<g id="footer">
<text class="f" x="2094" y="1673">Generated by Python Call Graph v1.0.1</text>
<text class="f" x="2094" y="1686">http://pycallgraph.slowchop.com</text>
</g>
</g>
</svg>
